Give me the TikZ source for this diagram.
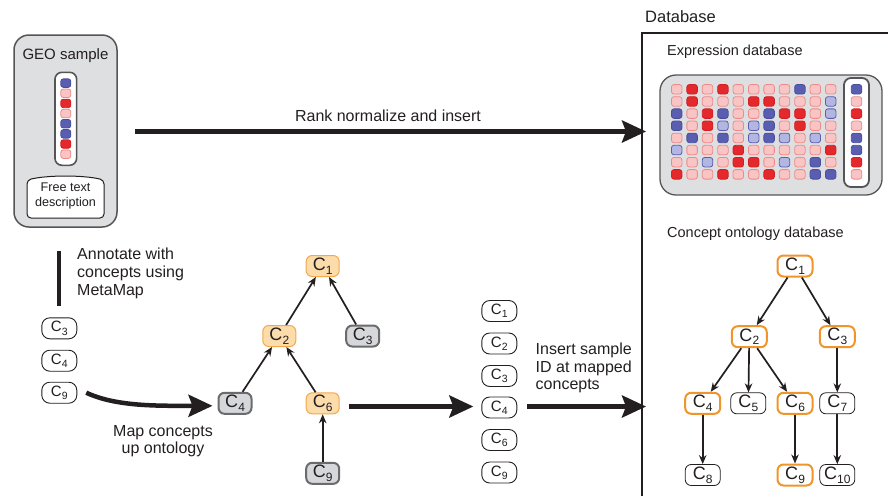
\documentclass[tikz,border=0pt]{standalone}
\usepackage{fontspec}
\setmainfont{Liberation Sans}
\usetikzlibrary{arrows.meta,calc}
\definecolor{txt}{HTML}{231F20}
\definecolor{sqFP}{HTML}{F9C4C4}\definecolor{sqDP}{HTML}{EE8A8A}
\definecolor{sqFR}{HTML}{E5282B}\definecolor{sqDR}{HTML}{D21F22}
\definecolor{sqFB}{HTML}{5A5EB0}\definecolor{sqDB}{HTML}{4A4E9C}
\definecolor{sqFL}{HTML}{B3B6E0}\definecolor{sqDL}{HTML}{5A5EB0}
\definecolor{boxgray}{HTML}{DEDFE1}
\definecolor{boxedge}{HTML}{555557}
\definecolor{orangeF}{HTML}{FCDCAB}
\definecolor{orangeB}{HTML}{F4A84C}
\definecolor{orangeD}{HTML}{F0952C}
\definecolor{nodegray}{HTML}{D6D7DA}
\definecolor{nodegrayD}{HTML}{6B6B6D}
\newcommand{\Cn}[2][12]{C\kern0.2pt\raisebox{-0.22em}{\fontsize{#1}{#1}\selectfont #2}}
\tikzset{
  sqbase/.style={draw, rounded corners=2.5pt, minimum width=10.5pt, minimum height=9.5pt, inner sep=0pt, line width=0.8pt},
  sq/.style={sqbase, fill=sqF#1, draw=sqD#1},
  lbl/.style={text=txt, font=\fontsize{16}{18}\selectfont, inner sep=0pt},
  dbn/.style={draw=txt, line width=0.8pt, rounded corners=6pt, fill=white, minimum width=35pt, minimum height=21pt, inner sep=0pt, text=txt, font=\fontsize{18}{18}\selectfont},
  dbo/.style={dbn, draw=orangeD, line width=2pt},
  mnode/.style={rounded corners=6pt, minimum width=33pt, minimum height=21pt, inner sep=0pt, text=txt, font=\fontsize{18}{18}\selectfont},
  mo/.style={mnode, fill=orangeF, draw=orangeB, line width=1pt},
  mg/.style={mnode, fill=nodegray, draw=nodegrayD, line width=2pt},
  ln/.style={draw=txt, fill=white, rounded corners=8pt, minimum width=35pt, minimum height=21pt, inner sep=0pt, line width=0.9pt, text=txt, font=\fontsize{15}{15}\selectfont},
  edge/.style={draw=txt, line width=1.7pt, -{Stealth[length=9pt,width=7.5pt]}},
  bigarrow/.style={draw=txt, line width=4.5pt, -{Stealth[length=24pt,width=22pt,inset=4pt]}},
}
\begin{document}
\begin{tikzpicture}[x=1pt,y=-1pt]
\useasboundingbox (0,0) rectangle (888,496);
% Database frame
\coordinate (dbbot) at (642,496);
\coordinate (dbtl) at (642,33);
\coordinate (dbright) at (888,33);
\draw[line width=2pt, draw=txt] (dbbot) -- (dbtl) -- (dbright);
\node[lbl, font=\fontsize{16.5}{18}\selectfont, anchor=west] (dbl) at (645,17) {Database};
\node[lbl, font=\fontsize{14.5}{16}\selectfont, anchor=west] (edl) at (667,52) {Expression database};
\node[lbl, font=\fontsize{14.5}{16}\selectfont, anchor=west] (codl) at (667,234) {Concept ontology database};

% GEO sample box
\node[draw=boxedge, fill=boxgray, line width=1.5pt, rounded corners=15pt, minimum width=103pt, minimum height=192pt] (geo) at (65.5,131) {};
\node[lbl, font=\fontsize{15}{16}\selectfont] (geol) at (65.5,56) {GEO sample};
\node[draw=boxedge, fill=white, line width=1.6pt, rounded corners=7pt, minimum width=21.7pt, minimum height=93pt, inner sep=0pt] (gcol) at (65.8,118.8) {};
\foreach \c [count=\k] in {B,P,R,P,B,B,R,P} {
  \node[sq=\c, minimum width=10pt, minimum height=8.5pt] (g-\k) at (65.8,{83.1+(\k-1)*10.15}) {};
}
\draw[draw=txt, fill=white, line width=1pt, rounded corners=4pt] (27,218) -- (27,180) .. controls (48,175) and (83,175) .. (104,180) -- (104,218) -- cycle;
\node[lbl, font=\fontsize{12.6}{15}\selectfont, align=center] (ft) at (65.5,196) {Free text\\description};

% Rank normalize arrow
\coordinate (rankstart) at (135,131.5);
\coordinate (rankend) at (646,131.5);
\draw[bigarrow] (rankstart) -- (rankend);
\node[lbl] (rankl) at (388,116) {Rank normalize and insert};

% Expression database
\node[draw=boxedge, fill=boxgray, line width=1.3pt, rounded corners=16pt, minimum width=222pt, minimum height=120pt] (expr) at (771,135) {};
\foreach \row [count=\r] in {
{P,R,P,R,P,P,P,P,B,P,P},
{P,R,P,P,P,R,R,P,P,P,L},
{B,P,R,B,P,P,B,R,R,P,L},
{B,P,R,L,P,L,B,P,R,P,P},
{P,B,P,B,P,L,B,L,P,L,P},
{L,P,P,P,R,P,P,P,P,P,R},
{P,P,L,P,R,R,P,L,P,B,P},
{R,P,P,R,P,P,R,P,P,B,B}} {
  \foreach \c [count=\k] in \row {
    \node[sq=\c] (m-\r-\k) at ({676.7+(\k-1)*15.4},{89.3+(\r-1)*12.15}) {};
  }
}
\node[draw=boxedge, fill=white, line width=1.8pt, rounded corners=7pt, minimum width=25pt, minimum height=109pt, inner sep=0pt] (rcol) at (856.5,132.5) {};
\foreach \c [count=\k] in {B,P,R,P,B,B,R,P} {
  \node[sq=\c] (r-\k) at (856.5,{89.3+(\k-1)*12.15}) {};
}

% Annotate
\node[ln] (l3) at (59.3,328.3) {\Cn[10.5]{3}};
\node[ln] (l4) at (59.3,360.7) {\Cn[10.5]{4}};
\node[ln] (l9) at (59.3,392.7) {\Cn[10.5]{9}};
\draw[draw=txt, line width=4pt] ($(geo.south)+(-6.2,23)$) -- ($(l3.north)+(0,-11.5)$);
\node[lbl, align=left, anchor=north west, font=\fontsize{16}{18}\selectfont] (annl) at (77,248) {Annotate with\\concepts using\\MetaMap};

% Middle tree
\node[mo] (m1) at (322.7,266) {\Cn{1}};
\node[mo] (m2) at (279.3,336) {\Cn{2}};
\node[mg] (m3) at (362.7,336) {\Cn{3}};
\node[mg] (m4) at (235,403.3) {\Cn{4}};
\node[mo] (m6) at (322.7,403.3) {\Cn{6}};
\node[mg] (m9) at (322.7,473.3) {\Cn{9}};
\draw[edge] (m2) -- (m1);
\draw[edge] (m3) -- (m1);
\draw[edge] (m4) -- (m2);
\draw[edge] (m6) -- (m2);
\draw[edge] (m9) -- (m6);

% Map arrow
\draw[bigarrow] ([xshift=9pt]l9.east) .. controls +(30,14) and +(-55,0) .. ([xshift=-5pt,yshift=-2.5pt]m4.west);
\node[lbl, align=center, font=\fontsize{16}{17}\selectfont] (mapl) at (163,441.5) {Map concepts\\up ontology};

% Column of concepts
\node[ln] (c1) at (499.3,311) {\Cn[10.5]{1}};
\node[ln] (c2) at (499.3,343.5) {\Cn[10.5]{2}};
\node[ln] (c3) at (499.3,376) {\Cn[10.5]{3}};
\node[ln] (c4) at (499.3,407.5) {\Cn[10.5]{4}};
\node[ln] (c6) at (499.3,440) {\Cn[10.5]{6}};
\node[ln] (c9) at (499.3,472.5) {\Cn[10.5]{9}};
\draw[bigarrow] ($(m6.east |- c4.west)+(9,-1)$) -- ($(c4.west)+(-8,-1)$);

% Insert arrow
\coordinate (insend) at ($(c4.east -| dbtl)+(4,-1)$);
\draw[bigarrow] ($(c4.east)+(10,-1)$) -- (insend);
\node[lbl, align=left, anchor=north west, font=\fontsize{16}{17.5}\selectfont] (insl) at (535.5,343) {Insert sample\\ID at mapped\\concepts};

% DB ontology tree
\node[dbo] (d1) at (795,266) {\Cn{1}};
\node[dbo] (d2) at (749.3,336.7) {\Cn{2}};
\node[dbo] (d3) at (837.3,336.7) {\Cn{3}};
\node[dbo] (d4) at (702.7,403.3) {\Cn{4}};
\node[dbn] (d5) at (748.3,403.3) {\Cn{5}};
\node[dbo] (d6) at (795,403.3) {\Cn{6}};
\node[dbn] (d7) at (837.3,403.3) {\Cn{7}};
\node[dbn] (d8) at (702.7,475) {\Cn{8}};
\node[dbo] (d9) at (795,475) {\Cn{9}};
\node[dbn] (d10) at (837.3,475) {\Cn{10}};
\draw[edge] (d1) -- (d2);
\draw[edge] (d1) -- (d3);
\draw[edge] (d2) -- (d4);
\draw[edge] (d2) -- (d5);
\draw[edge] (d2) -- (d6);
\draw[edge] (d3) -- (d7);
\draw[edge] (d4) -- (d8);
\draw[edge] (d6) -- (d9);
\draw[edge] (d7) -- (d10);
\end{tikzpicture}
\end{document}
